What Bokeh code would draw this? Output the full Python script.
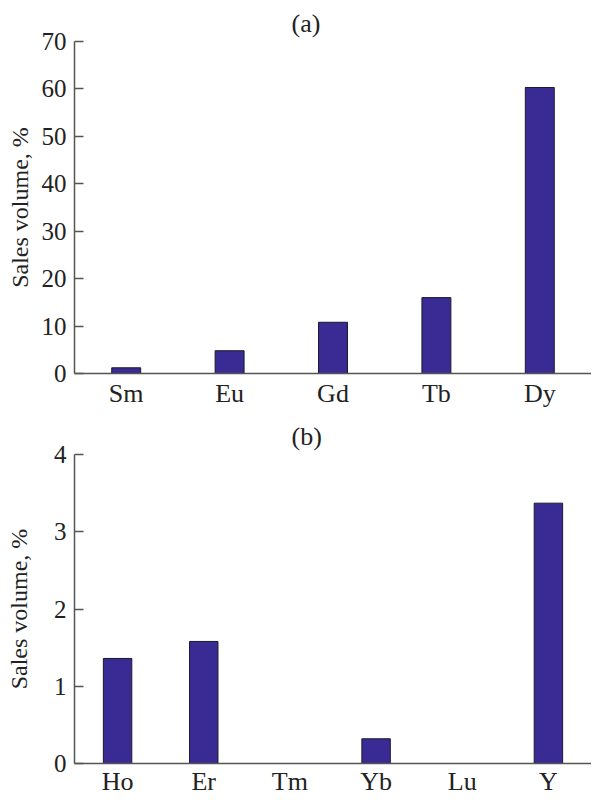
from bokeh.plotting import figure
from bokeh.layouts import column
from bokeh.models import FactorRange, Range1d, FixedTicker, ColumnDataSource
from bokeh.embed import file_html
from bokeh.resources import INLINE

# ---- data ----
cats_a = ["Sm", "Eu", "Gd", "Tb", "Dy"]
vals_a = [1.2, 4.8, 10.8, 16.0, 60.3]
ticks_a = [0, 10, 20, 30, 40, 50, 60, 70]

cats_b = ["Ho", "Er", "Tm", "Yb", "Lu", "Y"]
vals_b = [1.36, 1.58, 0.0, 0.32, 0.0, 3.37]
ticks_b = [0, 1, 2, 3, 4]

ylabel = "Sales volume, %"
FONT = "Liberation Serif"
BAR = "#3a2b94"
AX = "#555555"
TXT = "#222222"


def make(cats, vals, ticks, ymax, title, frame_h, top_border, width_frac,
         label_standoff, x_standoff):
    src = ColumnDataSource(dict(x=cats, top=vals))
    p = figure(x_range=FactorRange(*cats), y_range=Range1d(0, ymax),
               frame_width=517, frame_height=frame_h, output_backend="svg",
               toolbar_location=None, title=title,
               min_border_left=74, min_border_right=0, min_border_top=top_border,
               min_border_bottom=0)
    p.vbar(x="x", top="top", width=width_frac, source=src,
           fill_color=BAR, line_color="#1a1a2a", line_width=1)
    p.outline_line_color = None
    p.xgrid.grid_line_color = None
    p.ygrid.grid_line_color = None
    p.title.text_font = FONT
    p.title.text_font_size = "26px"
    p.title.text_font_style = "normal"
    p.title.align = "left"
    p.title.offset = 217
    p.title.standoff = 7
    p.title.text_color = TXT

    for ax in (p.xaxis[0], p.yaxis[0]):
        ax.axis_line_color = AX
        ax.axis_line_width = 1.5
        ax.major_tick_line_color = AX
        ax.major_tick_line_width = 1.5
        ax.minor_tick_line_color = None
        ax.major_label_text_font = FONT
        ax.major_label_text_color = TXT

    p.xaxis.major_label_text_font_size = "26px"
    p.xaxis.major_tick_line_color = None
    p.xaxis.major_tick_in = 0
    p.xaxis.major_tick_out = 0
    p.xaxis.major_label_standoff = x_standoff
    p.xaxis.major_label_text_line_height = 1.0

    p.yaxis.major_label_text_font_size = "25px"
    p.yaxis.ticker = FixedTicker(ticks=ticks)
    p.yaxis.major_tick_in = 9
    p.yaxis.major_tick_out = 0
    p.yaxis.major_label_standoff = 8
    p.yaxis.axis_label = ylabel
    p.yaxis.axis_label_text_font = FONT
    p.yaxis.axis_label_text_font_size = "24px"
    p.yaxis.axis_label_text_font_style = "normal"
    p.yaxis.axis_label_text_color = TXT
    p.yaxis.axis_label_standoff = label_standoff
    return p


pa = make(cats_a, vals_a, ticks_a, 70, "(a)", 332, 41, 0.28, 6, 5)
pb = make(cats_b, vals_b, ticks_b, 4, "(b)", 309, 44, 0.33, 19, 3)

layout = column(pa, pb, spacing=0)
open("out.html", "w").write(file_html(layout, INLINE))
